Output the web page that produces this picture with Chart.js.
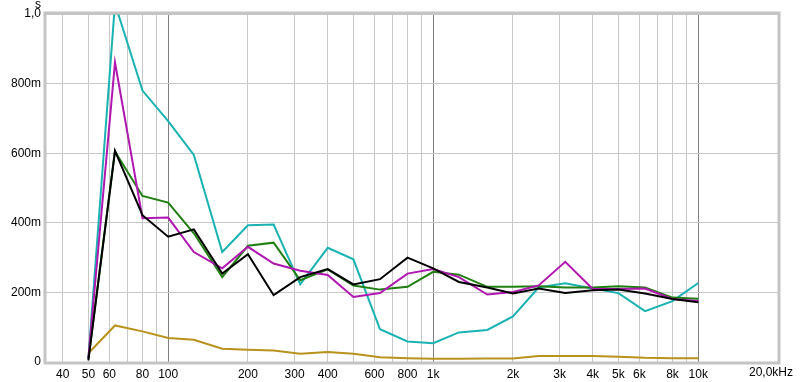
<!DOCTYPE html>
<html>
<head>
<meta charset="utf-8">
<script src="https://cdn.jsdelivr.net/npm/chart.js@4.4.0/dist/chart.umd.min.js"></script>
<style>
  html, body { margin: 0; padding: 0; background: #fff; }
  #wrap { width: 800px; height: 382px; }
</style>
</head>
<body>
<div id="wrap"><canvas id="rt"></canvas></div>
<script>
// third-octave band centres, Hz
const freqs = [50, 63, 80, 100, 125, 160, 200, 250, 315, 400, 500, 630, 800,
    1000, 1250, 1600, 2000, 2500, 3150, 4000, 5000, 6300, 8000, 10000];

// decay times, s
const cyan = [0.01, 1.03, 0.780, 0.692, 0.595, 0.316, 0.393, 0.395, 0.223, 0.328, 0.295, 0.094, 0.059,
    0.054, 0.085, 0.092, 0.131, 0.214, 0.226, 0.211, 0.198, 0.146, 0.175, 0.227];
const magenta = [0.01, 0.861, 0.413, 0.415, 0.316, 0.269, 0.331, 0.283, 0.262, 0.250, 0.187, 0.198, 0.254,
    0.267, 0.244, 0.194, 0.201, 0.220, 0.288, 0.210, 0.210, 0.211, 0.181, 0.175];
const green = [0.01, 0.605, 0.477, 0.458, 0.370, 0.244, 0.334, 0.343, 0.235, 0.266, 0.220, 0.208, 0.216,
    0.259, 0.251, 0.216, 0.216, 0.218, 0.214, 0.214, 0.218, 0.214, 0.185, 0.182];
const black = [0.005, 0.607, 0.422, 0.360, 0.381, 0.254, 0.310, 0.192, 0.244, 0.267, 0.223, 0.238, 0.300,
    0.269, 0.230, 0.214, 0.197, 0.211, 0.198, 0.206, 0.208, 0.197, 0.181, 0.172];
const yellow = [0.025, 0.105, 0.088, 0.069, 0.064, 0.038, 0.035, 0.033, 0.024, 0.029, 0.024, 0.014, 0.011,
    0.009, 0.009, 0.010, 0.010, 0.017, 0.017, 0.017, 0.015, 0.012, 0.011, 0.011];

// x grid lines and their labels
const xGrid = [40, 50, 60, 70, 80, 90, 100, 200, 300, 400, 500, 600, 700, 800, 900,
    1000, 2000, 3000, 4000, 5000, 6000, 7000, 8000, 9000, 10000];
const xLabels = {40: "40", 50: "50", 60: "60", 80: "80", 100: "100", 200: "200", 300: "300",
    400: "400", 600: "600", 800: "800", 1000: "1k", 2000: "2k", 3000: "3k", 4000: "4k",
    5000: "5k", 6000: "6k", 8000: "8k", 10000: "10k"};
const decades = [100, 1000, 10000];

function pts(vals) {
    return freqs.map((f, i) => ({x: f, y: vals[i]}));
}

const fontFam = "'Liberation Sans', Arial, sans-serif";

const frame = {
    id: "frame",
    afterDraw(chart) {
        const a = chart.chartArea;
        const ctx = chart.ctx;
        ctx.save();
        ctx.strokeStyle = "#c4c4c4";
        ctx.lineWidth = 3;
        ctx.strokeRect(a.left - 1, a.top - 1, a.right - a.left + 2, a.bottom - a.top + 2);
        ctx.fillStyle = "#000";
        ctx.font = "12px " + fontFam;
        ctx.textAlign = "center";
        ctx.textBaseline = "middle";
        ctx.fillText("s", 38, 5);
        ctx.fillText("20,0kHz", 771, 373);
        ctx.restore();
    }
};

new Chart(document.getElementById("rt"), {
    type: "line",
    data: {
        datasets: [
            {data: pts(black), borderColor: "#000000"},
            {data: pts(magenta), borderColor: "#b016b0"},
            {data: pts(green), borderColor: "#1f7f10"},
            {data: pts(cyan), borderColor: "#1ab2b2"},
            {data: pts(yellow), borderColor: "#b8921c"}
        ]
    },
    options: {
        responsive: true,
        maintainAspectRatio: false,
        animation: false,
        layout: {padding: {top: 14, right: 22, left: 0, bottom: 0}},
        elements: {
            line: {borderWidth: 2, tension: 0},
            point: {radius: 0}
        },
        plugins: {legend: {display: false}, tooltip: {enabled: false}},
        scales: {
            x: {
                type: "logarithmic",
                min: 34.6,
                max: 20000,
                afterBuildTicks: (s) => { s.ticks = xGrid.map(v => ({value: v})); },
                afterFit: (s) => { s.height = 20; },
                grid: {
                    drawTicks: false,
                    color: (c) => decades.includes(c.tick.value) ? "#808080" : "#c8c8c8"
                },
                border: {display: false},
                ticks: {
                    autoSkip: false,
                    maxRotation: 0,
                    padding: 5,
                    color: "#000",
                    font: {family: fontFam, size: 12},
                    callback: (v) => xLabels[v] || ""
                }
            },
            y: {
                min: 0,
                max: 1,
                afterFit: (s) => { s.width = 46; },
                grid: {drawTicks: false, color: "#c8c8c8"},
                border: {display: false},
                ticks: {
                    stepSize: 0.2,
                    padding: 5,
                    color: "#000",
                    font: {family: fontFam, size: 12},
                    callback: (v) => v === 0 ? "0" : (v >= 0.999 ? "1,0" : Math.round(v * 1000) + "m")
                }
            }
        }
    },
    plugins: [frame]
});
</script>
</body>
</html>
